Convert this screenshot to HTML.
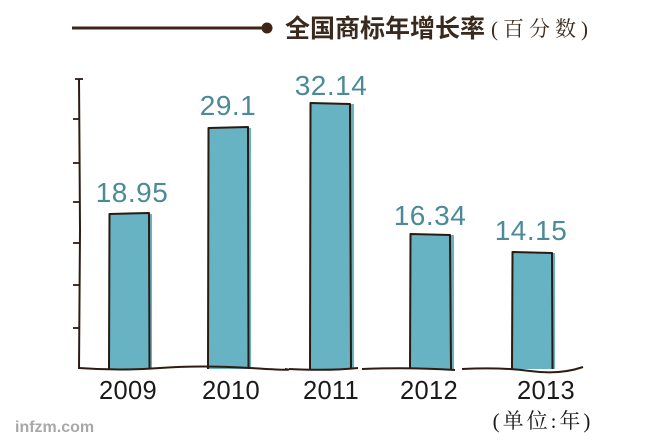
<!DOCTYPE html>
<html>
<head>
<meta charset="utf-8">
<style>
  html, body { margin: 0; padding: 0; background: #ffffff; }
  body { width: 660px; height: 440px; overflow: hidden; }
  svg { display: block; }
</style>
</head>
<body>
<svg width="660" height="440" viewBox="0 0 660 440" xmlns="http://www.w3.org/2000/svg">
  <rect width="660" height="440" fill="#ffffff"/>

  <!-- Title line with dot -->
  <line x1="72" y1="28" x2="266" y2="28" stroke="#3d2416" stroke-width="3"/>
  <circle cx="267" cy="28" r="5.5" fill="#3d2416"/>
  <text x="285" y="37" font-family="'Liberation Sans','Noto Sans CJK SC',sans-serif" font-size="25" font-weight="bold" fill="#3a2a1e">全国商标年增长率</text>
  <text x="491" y="36" font-family="'Liberation Serif','Noto Serif CJK SC',serif" font-size="21" fill="#3a2a1e" letter-spacing="5">(百分数)</text>

  <!-- Y axis -->
  <path d="M79,79 L79.5,150 L80,230 L79.5,300 L79,369" fill="none" stroke="#2e1c12" stroke-width="2"/>
  <g stroke="#2e1c12" stroke-width="1.8">
    <line x1="75" y1="79" x2="83" y2="79"/>
    <line x1="73" y1="119" x2="80" y2="119"/>
    <line x1="73" y1="163" x2="80" y2="163"/>
    <line x1="73" y1="202" x2="80" y2="202"/>
    <line x1="73" y1="243" x2="80" y2="243"/>
    <line x1="73" y1="285" x2="80" y2="285"/>
    <line x1="73" y1="328" x2="80" y2="328"/>
  </g>

  <!-- Bars: fill (offset right) -->
  <g fill="#67b2c3">
    <rect x="110" y="214" width="42" height="155"/>
    <rect x="209" y="128" width="42" height="241"/>
    <rect x="311" y="104" width="43" height="265"/>
    <rect x="411" y="235" width="43" height="134"/>
    <rect x="513" y="253" width="42" height="116"/>
  </g>
  <!-- Bars: outlines -->
  <g fill="none" stroke="#2a1a10" stroke-width="2" stroke-linejoin="round">
    <path d="M109,369 L109.5,214 L149,213 L149.5,369"/>
    <path d="M208,369 L208.5,128 L248,127 L248.5,369"/>
    <path d="M310,369 L310.5,103 L350,104 L351,369"/>
    <path d="M410,369 L410.5,234 L450,235 L451,369"/>
    <path d="M512,369 L512.5,252 L552,253 L552.5,369"/>
  </g>

  <!-- Baseline (wavy) -->
  <path d="M79,368 Q120,371 160,368 T250,368 T285,369" fill="none" stroke="#2e1c12" stroke-width="2"/>
  <path d="M289,369 Q330,371 358,368" fill="none" stroke="#2e1c12" stroke-width="2"/>
  <path d="M362,369 Q410,367 455,370" fill="none" stroke="#2e1c12" stroke-width="2"/>
  <path d="M462,369 Q500,367 530,371 T583,367" fill="none" stroke="#2e1c12" stroke-width="2"/>

  <!-- Value labels -->
  <g font-family="'Liberation Sans',sans-serif" font-size="28" fill="#4a8b97" text-anchor="middle" letter-spacing="0.5">
    <text x="132" y="202">18.95</text>
    <text x="228" y="115">29.1</text>
    <text x="331" y="95">32.14</text>
    <text x="430" y="225">16.34</text>
    <text x="531" y="240">14.15</text>
  </g>

  <!-- Year labels -->
  <g font-family="'Liberation Sans',sans-serif" font-size="25.5" fill="#1a1a1a" text-anchor="middle" letter-spacing="0.3">
    <text x="128" y="399">2009</text>
    <text x="231" y="399">2010</text>
    <text x="331" y="399">2011</text>
    <text x="429" y="399">2012</text>
    <text x="546" y="399">2013</text>
  </g>
  <text x="543" y="428" text-anchor="middle" font-family="'Liberation Serif','Noto Serif CJK SC',serif" font-size="21" fill="#1a1a1a" letter-spacing="3">(单位:年)</text>

  <!-- Watermark -->
  <text x="15" y="432" font-family="'Liberation Sans',sans-serif" font-size="16" font-weight="bold" fill="#a8a8a8">infzm.com</text>
</svg>
</body>
</html>
